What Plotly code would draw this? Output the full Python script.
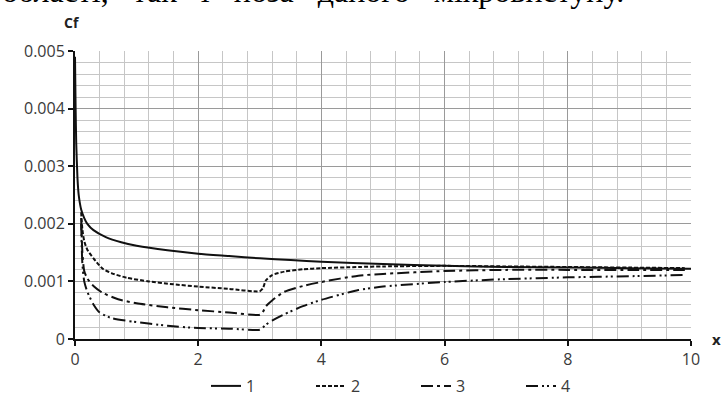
import plotly.graph_objects as go

# Skin-friction coefficient Cf along x for four configurations
x1 = [0, 0.01, 0.02, 0.04, 0.06, 0.1, 0.15, 0.2, 0.3, 0.5, 0.75, 1, 1.5, 2, 2.5, 3, 3.5, 4, 5, 6, 7, 8, 9, 10]
cf1 = [0.0049, 0.0040, 0.0034, 0.0028, 0.0025, 0.00225, 0.0021, 0.0020, 0.00189, 0.00177, 0.00168, 0.00162,
       0.00154, 0.00148, 0.00144, 0.00140, 0.00137, 0.00134, 0.00130, 0.00127, 0.00125, 0.00124, 0.00123, 0.00122]

x2 = [0.1, 0.12, 0.15, 0.2, 0.3, 0.45, 0.6, 0.85, 1.2, 1.6, 2.0, 2.5, 3.0, 3.05, 3.1, 3.2, 3.4, 3.7, 4.0, 4.6,
      5, 6, 7, 8, 9, 9.9]
cf2 = [0.0022, 0.0019, 0.0017, 0.00155, 0.0014, 0.00122, 0.00114, 0.00106, 0.00100, 0.00095, 0.00091, 0.00087,
       0.00083, 0.00088, 0.00102, 0.00111, 0.00117, 0.00121, 0.00123, 0.00125, 0.00126, 0.00127, 0.00126,
       0.00125, 0.00124, 0.00123]

x3 = [0.1, 0.12, 0.15, 0.2, 0.3, 0.45, 0.7, 1.0, 1.5, 2.0, 2.5, 3.0, 3.05, 3.1, 3.2, 3.4, 3.7, 4.0, 4.6,
      5, 6, 7, 8, 9, 9.9]
cf3 = [0.0021, 0.0015, 0.00118, 0.00105, 0.00092, 0.0008, 0.00069, 0.00062, 0.00055, 0.0005, 0.00046, 0.00042,
       0.00047, 0.00057, 0.00067, 0.00082, 0.00092, 0.00099, 0.0011, 0.00113, 0.00118, 0.0012, 0.0012,
       0.0012, 0.0012]

x4 = [0.1, 0.12, 0.15, 0.2, 0.3, 0.4, 0.6, 0.95, 1.5, 2.0, 2.5, 3.0, 3.05, 3.1, 3.2, 3.4, 3.7, 4.0, 4.6,
      5, 6, 7, 8, 9, 9.9]
cf4 = [0.002, 0.0013, 0.001, 0.00082, 0.0006, 0.00046, 0.00036, 0.0003, 0.00023, 0.00019, 0.00018, 0.00016,
       0.0002, 0.00025, 0.00032, 0.00043, 0.00057, 0.00068, 0.00085, 0.00091, 0.00099, 0.00104, 0.00107,
       0.00109, 0.00111]

names = ["1", "2", "3", "4"]
dashes = ["solid", "4px,2px", "12px,4px,3px,4px", "12px,4px,2px,3px,2px,4px"]

y_ticks = [0, 0.001, 0.002, 0.003, 0.004, 0.005]
y_labels = ["0", "0.001", "0.002", "0.003", "0.004", "0.005"]

W, H = 721, 396


def px_x(p):
    return p / W


def px_y(p):
    return 1 - p / H


fig = go.Figure()
for xs, ys, nm, ds in zip([x1, x2, x3, x4], [cf1, cf2, cf3, cf4], names, dashes):
    fig.add_trace(go.Scatter(x=xs, y=ys, name=nm, mode="lines",
                             line=dict(color="#111111", width=2, dash=ds, shape="spline", smoothing=0.6)))

tick_font = dict(family="Open Sans, sans-serif", size=16, color="#3a3a3a")

fig.update_layout(
    width=W, height=H,
    margin=dict(l=0, r=0, t=0, b=0, autoexpand=False),
    paper_bgcolor="white", plot_bgcolor="white",
    font=tick_font,
    showlegend=True,
    legend=dict(orientation="h", x=px_x(206), xanchor="left",
                y=px_y(386), yanchor="middle",
                font=dict(family="Open Sans, sans-serif", size=16, color="#3a3a3a"),
                entrywidth=60, entrywidthmode="pixels", bgcolor="rgba(0,0,0,0)"),
    xaxis=dict(domain=[px_x(75), px_x(691)], range=[0, 10], dtick=2, tick0=0, showgrid=True,
               gridcolor="#9a9a9a", gridwidth=1,
               showline=True, linecolor="#111111", linewidth=2, ticks="outside", ticklen=5,
               tickcolor="#111111", tickwidth=2, zeroline=False, tickfont=tick_font,
               minor=dict(dtick=0.4, tick0=0, showgrid=True, gridcolor="#c6c6c6", gridwidth=1, ticks="")),
    yaxis=dict(domain=[px_y(339), px_y(51)], range=[0, 0.005], tickvals=y_ticks, ticktext=y_labels,
               showgrid=True, gridcolor="#9a9a9a",
               gridwidth=1, showline=True, linecolor="#111111", linewidth=2, ticks="outside", ticklen=5,
               tickcolor="#111111", tickwidth=2, zeroline=False, tickfont=tick_font,
               minor=dict(dtick=0.0002, tick0=0, showgrid=True, gridcolor="#c6c6c6", gridwidth=1, ticks="")),
)

fig.add_annotation(text="<b>Cf</b>", xref="paper", yref="paper", x=px_x(72), y=px_y(22),
                   xanchor="center", yanchor="middle", showarrow=False,
                   font=dict(family="Open Sans, sans-serif", size=14, color="#222222"))
fig.add_annotation(text="<b>x</b>", xref="paper", yref="paper", x=px_x(716), y=px_y(339),
                   xanchor="center", yanchor="middle", showarrow=False,
                   font=dict(family="Open Sans, sans-serif", size=15, color="#222222"))

sp = "\u00a0\u00a0\u00a0"
heading = sp.join(["області,", "так", "і", "поза", "даного", "мікровиступу."])
fig.add_annotation(text=heading, xref="paper", yref="paper",
                   x=0.0, y=px_y(11), xanchor="left", yanchor="bottom", showarrow=False,
                   font=dict(family="Liberation Serif, serif", size=32, color="#000000"))

fig.write_html("out.html")
